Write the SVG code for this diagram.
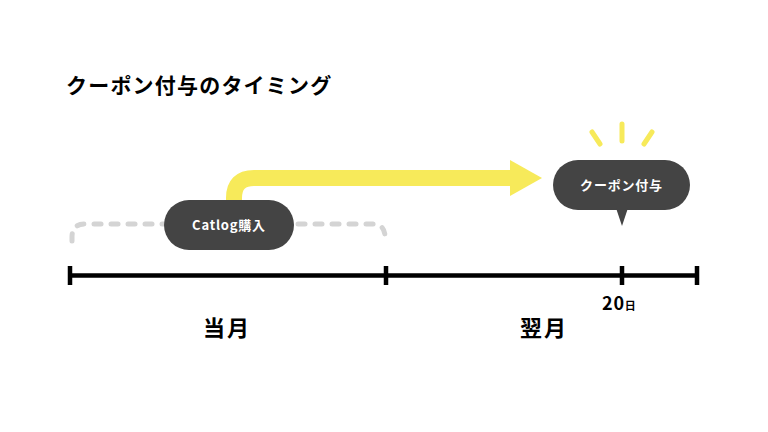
<svg xmlns="http://www.w3.org/2000/svg" width="768" height="432" viewBox="0 0 768 432">
<style>
.t{font-family:"Noto Sans CJK JP","Noto Sans",sans-serif;font-weight:700}
.pill{fill:#444444}
.wt{fill:#ffffff;font-size:13px;text-anchor:middle;letter-spacing:0.8px}
.ray{stroke:#f7ea5a;stroke-width:5;stroke-linecap:round;fill:none}
.axis{stroke:#000;stroke-width:4.5;fill:none}
</style>
<rect width="768" height="432" fill="#ffffff"/>
<text class="t" x="66" y="93" font-size="21" letter-spacing="1.2" fill="#000">クーポン付与のタイミング</text>
<g id="connectors">
<path d="M72,241 V237 Q72,224 85,224 H372 Q385,224 385,237 V241" fill="none" stroke="#d4d4d4" stroke-width="5" stroke-linecap="round" stroke-dasharray="7 10"/>
<path d="M234,204 V198 Q234,178 254,178 H512" fill="none" stroke="#f7ea5a" stroke-width="16"/>
<polygon points="510,160 542,178 510,196" fill="#f7ea5a"/>
</g>
<g id="timeline">
<path class="axis" d="M70,275.5 H697 M70,266 V285 M386,266 V285 M622,266 V285 M697,266 V285"/>
<text class="t" x="227" y="336" font-size="22" letter-spacing="2" text-anchor="middle" fill="#000">当月</text>
<text class="t" x="544" y="336" font-size="22" letter-spacing="2" text-anchor="middle" fill="#000">翌月</text>
<text class="t" x="602" y="310" font-size="18" letter-spacing="0.8" fill="#000">20<tspan font-size="11">日</tspan></text>
</g>
<g id="catlog">
<rect class="pill" x="164" y="200" width="130" height="50" rx="25"/>
<text class="t wt" x="229" y="230">Catlog購入</text>
</g>
<g id="coupon">
<path class="ray" d="M592,132 L600,144 M622,124 V141 M652,132 L644,144"/>
<rect class="pill" x="553" y="160" width="137" height="50" rx="25"/>
<polygon class="pill" points="616,208 628,208 622,226"/>
<text class="t wt" x="621.5" y="190">クーポン付与</text>
</g>
</svg>
